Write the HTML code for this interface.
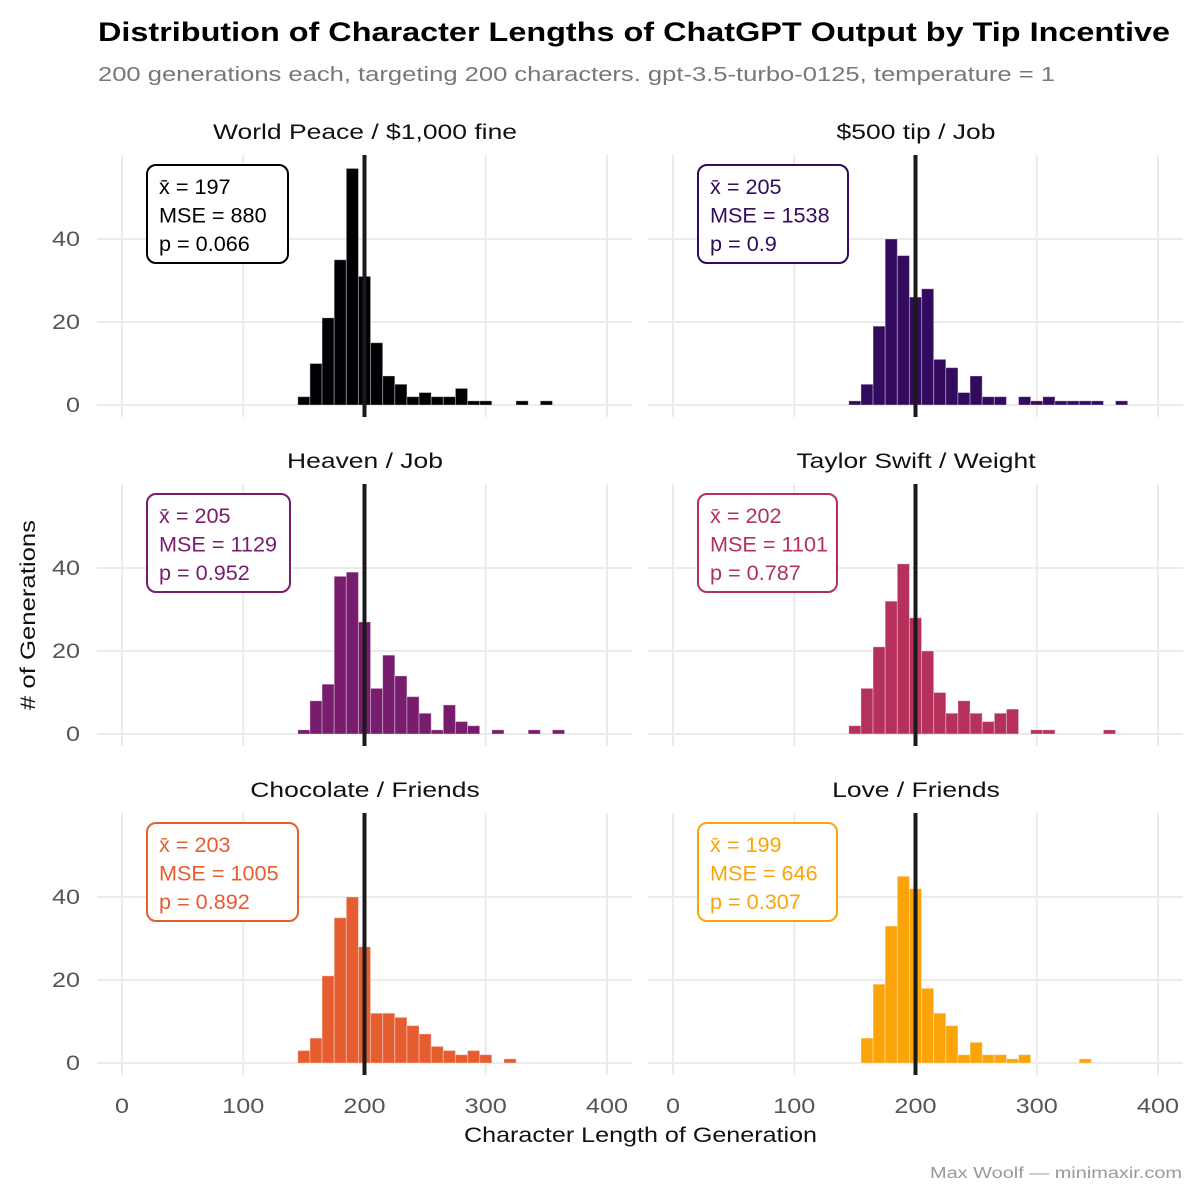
<!DOCTYPE html>
<html><head><meta charset="utf-8">
<style>
body{margin:0;background:#fff;}
svg{display:block;font-family:"Liberation Sans",sans-serif;}
</style></head>
<body>
<svg id="chart" width="1200" height="1200" viewBox="0 0 1200 1200">
<rect width="1200" height="1200" fill="#fff"/>
<text x="98" y="41" font-size="27" font-weight="bold" fill="#000" textLength="1072" lengthAdjust="spacingAndGlyphs">Distribution of Character Lengths of ChatGPT Output by Tip Incentive</text>
<text x="98" y="81" font-size="20" fill="#777" textLength="957" lengthAdjust="spacingAndGlyphs">200 generations each, targeting 200 characters. gpt-3.5-turbo-0125, temperature = 1</text>
<text x="464" y="1142" font-size="21" fill="#111" textLength="353" lengthAdjust="spacingAndGlyphs">Character Length of Generation</text>
<text transform="translate(35,710) rotate(-90)" font-size="21" fill="#111" textLength="190" lengthAdjust="spacingAndGlyphs"># of Generations</text>
<text x="930" y="1178" font-size="16" fill="#999" textLength="252" lengthAdjust="spacingAndGlyphs">Max Woolf — minimaxir.com</text>
<g id="panels"></g>
</svg>
<script>
const panelTitles = ["World Peace / $1,000 fine","$500 tip / Job","Heaven / Job","Taylor Swift / Weight","Chocolate / Friends","Love / Friends"];
const panelColors = ["#000004","#320a5e","#781c6d","#b5305a","#e65d2f","#fba40a"];
const binStarts = [145,155,165,175,185,195,205,215,225,235,245,255,265,275,285,295,305,315,325,335,345,355,365];
const countsWorldPeace = [2,10,21,35,57,31,15,7,5,2,3,2,2,4,1,1,0,0,1,0,1,0,0];
const countsTip500 = [1,5,19,40,36,26,28,11,9,3,7,2,2,0,2,1,2,1,1,1,1,0,1];
const countsHeaven = [1,8,12,38,39,27,11,19,14,9,5,1,7,3,2,0,1,0,0,1,0,1,0];
const countsTaylor = [2,11,21,32,41,28,20,10,5,8,5,3,5,6,0,1,1,0,0,0,0,1,0];
const countsChocolate = [3,6,21,35,40,28,12,12,11,9,7,4,3,2,3,2,0,1,0,0,0,0,0];
const countsLove = [0,6,19,33,45,42,18,12,9,2,5,2,2,1,2,0,0,0,0,1,0,0,0];
const allCounts = [countsWorldPeace,countsTip500,countsHeaven,countsTaylor,countsChocolate,countsLove];
const statMeans = ["197","205","205","202","203","199"];
const statMSE = ["880","1538","1129","1101","1005","646"];
const statP = ["0.066","0.9","0.952","0.787","0.892","0.307"];
const xTicks = [0,100,200,300,400];
const yTicks = [0,20,40];
const binWidth = 10;
const targetLength = 200;

const NS = "http://www.w3.org/2000/svg";
const root = document.getElementById('panels');
function mk(tag, attrs, parent){const e=document.createElementNS(NS,tag);for(const k in attrs)e.setAttribute(k,attrs[k]);parent.appendChild(e);return e;}
function widen(t,s){const w=t.getComputedTextLength();t.setAttribute('textLength',(w*s).toFixed(1));t.setAttribute('lengthAdjust','spacingAndGlyphs');}
const colX0 = [122,673], rowY0 = [405,734,1063];
const pxPerX = 1.2125, pxPerY = 4.15;
for(let i=0;i<6;i++){
  const col=i%2,row=Math.floor(i/2);
  const x=v=>colX0[col]+v*pxPerX;
  const y=v=>rowY0[row]-v*pxPerY;
  const g=mk('g',{},root);
  
  
  const left=colX0[col]-25,right=colX0[col]+510,top=rowY0[row]-250,bottom=rowY0[row]+12;
  xTicks.forEach(t=>{const l=mk('line',{x1:x(t),x2:x(t),y1:top,y2:bottom,stroke:'#ebebeb','stroke-width':2},g);
    });
  yTicks.forEach(t=>{const l=mk('line',{x1:left,x2:right,y1:y(t),y2:y(t),stroke:'#ebebeb','stroke-width':2},g);
    
    if(col===0){const tx=mk('text',{x:left-17,y:y(t)+7,'font-size':21,'text-anchor':'end',fill:'#555'},g);tx.textContent=t;
      widen(tx,1.2);}});
  if(row===2){xTicks.forEach(t=>{const tx=mk('text',{x:x(t),y:bottom+38,'font-size':21,'text-anchor':'middle',fill:'#555'},g);tx.textContent=t;
    widen(tx,1.2);});}
  const tt=mk('text',{x:colX0[col]+243,y:top-16,'font-size':21,'text-anchor':'middle',fill:'#111'},g);
  tt.textContent=panelTitles[i];
  
  widen(tt,1.26);
  const counts=allCounts[i];
  counts.forEach((c,k)=>{if(!c)return;
    const r=mk('rect',{x:x(binStarts[k]),y:y(c),width:binWidth*pxPerX,height:c*pxPerY,fill:panelColors[i],stroke:'rgba(255,255,255,0.35)','stroke-width':1},g);
    });
  const vl=mk('line',{x1:x(targetLength),x2:x(targetLength),y1:top,y2:bottom,stroke:'#1a1a1a','stroke-width':4},g);
  
  const bx=colX0[col]+25,by=top+10;
  const br=mk('rect',{x:bx,y:by,width:[141,150,143,139,151,139][i],height:98,rx:9,fill:'#fff',stroke:panelColors[i],'stroke-width':2},g);
  
  [['x̄ = ',statMeans[i]],['MSE = ',statMSE[i]],['p = ',statP[i]]].forEach((s,j)=>{
    const tx=mk('text',{x:bx+12,y:by+29+j*28.5,'font-size':21,fill:panelColors[i]},g);tx.textContent=s[0]+s[1];
    widen(tx,1.03);});
}
</script>
</body></html>
